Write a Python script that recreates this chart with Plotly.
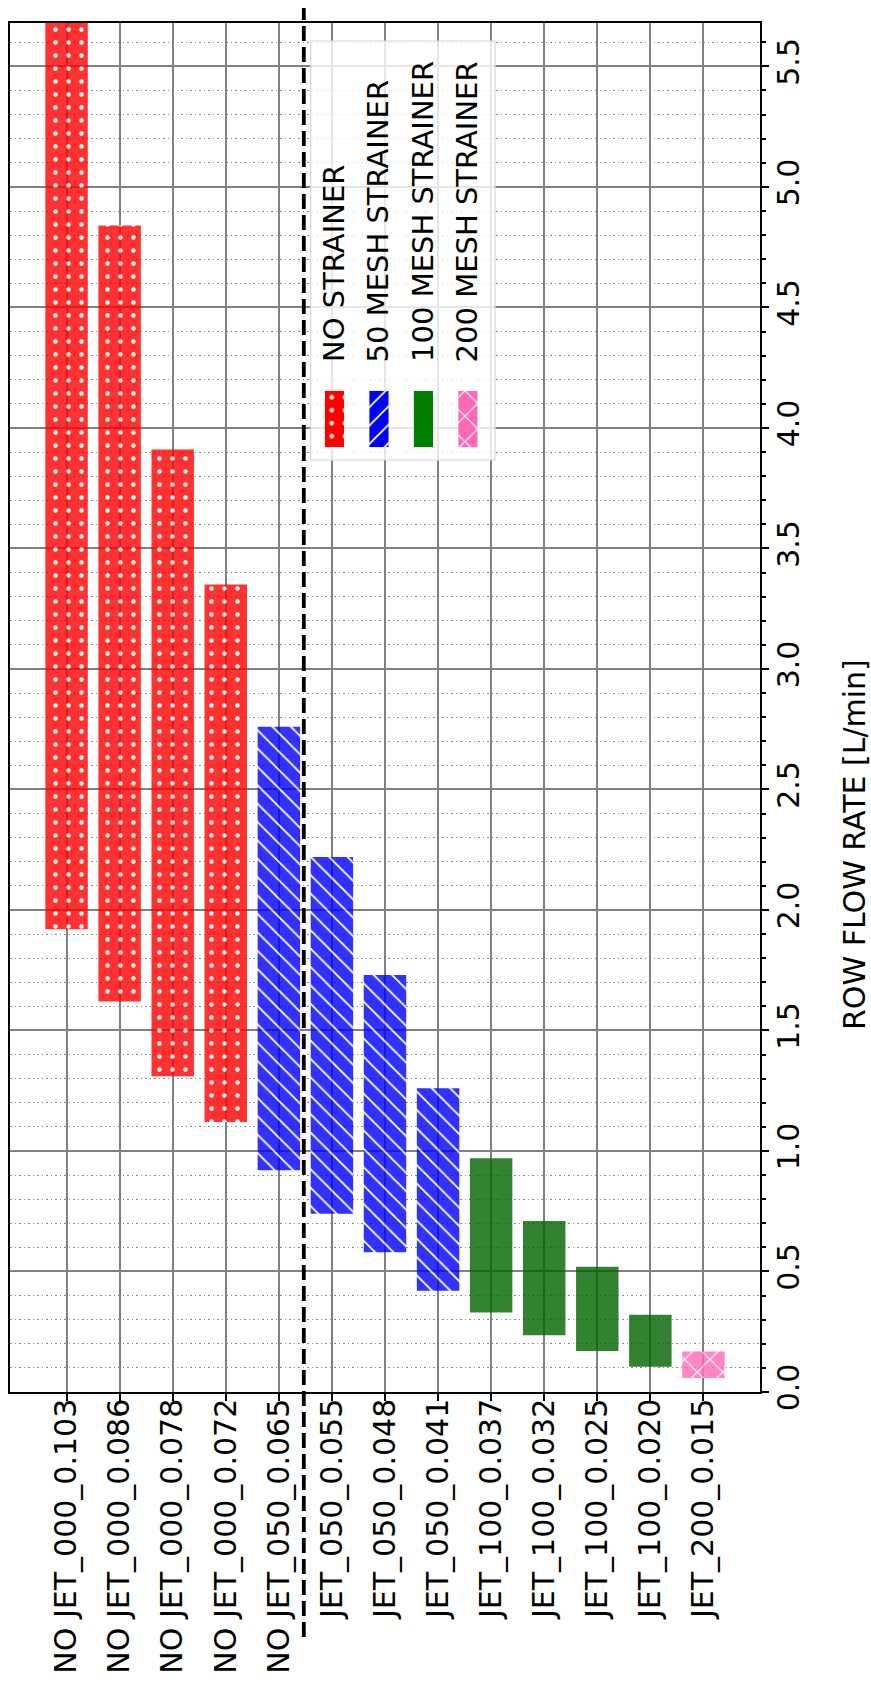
import plotly.graph_objects as go

categories = [
    "NO JET_000_0.103", "NO JET_000_0.086", "NO JET_000_0.078", "NO JET_000_0.072",
    "NO JET_050_0.065", "JET_050_0.055", "JET_050_0.048", "JET_050_0.041",
    "JET_100_0.037", "JET_100_0.032", "JET_100_0.025", "JET_100_0.020",
    "JET_200_0.015",
]
flow_min = [1.92, 1.62, 1.31, 1.12, 0.92, 0.74, 0.58, 0.42, 0.33, 0.235, 0.17, 0.105, 0.058]
flow_max = [5.80, 4.84, 3.91, 3.35, 2.76, 2.22, 1.73, 1.26, 0.97, 0.71, 0.52, 0.32, 0.168]
strainer = (["NO STRAINER"] * 4 + ["50 MESH STRAINER"] * 4
            + ["100 MESH STRAINER"] * 4 + ["200 MESH STRAINER"])
groups = ["NO STRAINER", "50 MESH STRAINER", "100 MESH STRAINER", "200 MESH STRAINER"]
y_ticks = [0.0, 0.5, 1.0, 1.5, 2.0, 2.5, 3.0, 3.5, 4.0, 4.5, 5.0, 5.5]

# styles
bar_colors = {"NO STRAINER": "#ff0000", "50 MESH STRAINER": "#0000ff",
              "100 MESH STRAINER": "#006400", "200 MESH STRAINER": "#ff69b4"}
leg_colors = {"NO STRAINER": "#ff0000", "50 MESH STRAINER": "#0000ff",
              "100 MESH STRAINER": "#008000", "200 MESH STRAINER": "#ff69b4"}
bar_pattern = {"NO STRAINER": ".", "50 MESH STRAINER": "\\",
               "100 MESH STRAINER": "", "200 MESH STRAINER": "x"}
leg_pattern = {"NO STRAINER": ".", "50 MESH STRAINER": "/",
               "100 MESH STRAINER": "", "200 MESH STRAINER": "x"}
pat_size = {".": 13, "\\": 13, "/": 13, "x": 18, "": 8}
pat_sol = {".": 0.09, "\\": 0.14, "/": 0.14, "x": 0.12, "": 0.3}

FONT = "DejaVu Sans"
W, H = 871, 1688
ML, MR, MT, MB = 10, 111, 23, 296
XR = [-1.066, len(categories) - 1 + 1.066]
YR = [0, 5.68]


def px_x(px):
    return (px - ML) / (W - ML - MR)


def px_y(py):
    return (H - MB - py) / (H - MT - MB)


def data_x(px):
    return XR[0] + px_x(px) * (XR[1] - XR[0])


def data_y(py):
    return YR[0] + px_y(py) * (YR[1] - YR[0])


fig = go.Figure()

for g in groups:
    idx = [i for i, s in enumerate(strainer) if s == g]
    fig.add_trace(
        go.Bar(
            x=[categories[i] for i in idx],
            y=[flow_max[i] - flow_min[i] for i in idx],
            base=[flow_min[i] for i in idx],
            width=0.8,
            opacity=0.8,
            marker=dict(
                color=bar_colors[g],
                line=dict(width=0),
                pattern=dict(shape=bar_pattern[g], fgcolor="white", fgopacity=1,
                             size=pat_size[bar_pattern[g]], solidity=pat_sol[bar_pattern[g]]),
            ),
            showlegend=False,
            hoverinfo="skip",
        )
    )

# legend swatches on a small hidden subplot
for k, g in enumerate(groups):
    fig.add_trace(
        go.Bar(
            x=[k], y=[1], base=[0], width=0.43,
            marker=dict(
                color=leg_colors[g],
                line=dict(width=0),
                pattern=dict(shape=leg_pattern[g], fgcolor="white", fgopacity=1,
                             size=pat_size[leg_pattern[g]], solidity=pat_sol[leg_pattern[g]]),
            ),
            xaxis="x2", yaxis="y2",
            showlegend=False, hoverinfo="skip",
        )
    )

slot = 44.47
leg_x0 = 334.5 - slot / 2

annotations = []
for k, g in enumerate(groups):
    annotations.append(dict(
        text=g, textangle=-90, showarrow=False,
        xref="paper", yref="paper",
        x=px_x(334.5 + k * slot), y=px_y(364),
        xanchor="center", yanchor="bottom",
        font=dict(family=FONT, size=29, color="black"),
    ))

annotations.append(dict(
    text="ROW FLOW RATE [L/min]", textangle=-90, showarrow=False,
    xref="paper", yref="paper", x=px_x(855), y=px_y(845),
    xanchor="center", yanchor="middle",
    font=dict(family=FONT, size=30, color="black"),
))

dash_x = (4.47 - XR[0]) / (XR[1] - XR[0])

shapes = [
    # legend frame
    dict(type="rect", xref="x", yref="y", layer="between",
         x0=data_x(310.7), x1=data_x(495), y0=data_y(460), y1=data_y(41),
         fillcolor="rgba(255,255,255,0.8)", line=dict(color="#d6d6d6", width=1.2)),
    # separator between NO JET and JET
    dict(type="line", xref="paper", yref="paper", layer="above",
         x0=dash_x, x1=dash_x, y0=px_y(1637), y1=px_y(8),
         line=dict(color="black", width=3.8, dash="15px,6px")),
]

fig.update_layout(
    width=W, height=H,
    margin=dict(l=ML, r=MR, t=MT, b=MB),
    barmode="overlay",
    plot_bgcolor="rgba(0,0,0,0)",
    paper_bgcolor="white",
    font=dict(family=FONT, size=30, color="black"),
    showlegend=False,
    annotations=annotations,
    shapes=shapes,
    xaxis=dict(
        type="category", categoryorder="array", categoryarray=categories,
        range=XR, tickangle=-90, automargin=False, ticklabelstandoff=-14,
        ticks="outside", ticklen=7, tickwidth=1.5, tickcolor="black",
        showgrid=True, gridcolor="#808080", gridwidth=1.5,
        showline=True, linecolor="black", linewidth=1.5, mirror=True,
        tickfont=dict(family=FONT, size=30, color="black"),
        zeroline=False,
    ),
    yaxis=dict(
        side="right", range=YR, automargin=False, ticklabelstandoff=-6,
        tickvals=y_ticks, tickformat=".1f", tickangle=-90,
        ticks="outside", ticklen=7, tickwidth=1.5, tickcolor="black",
        showgrid=True, gridcolor="#808080", gridwidth=1.5,
        minor=dict(dtick=0.1, ticks="outside", ticklen=4, tickcolor="black",
                   showgrid=True, gridcolor="#8c8c8c", gridwidth=1.3,
                   griddash="1.5px,3px"),
        showline=True, linecolor="black", linewidth=1.5, mirror=True,
        tickfont=dict(family=FONT, size=30, color="black"),
        zeroline=False,
    ),
    xaxis2=dict(domain=[px_x(leg_x0), px_x(leg_x0 + 4 * slot)], range=[-0.5, 3.5],
                anchor="y2", visible=False, fixedrange=True),
    yaxis2=dict(domain=[px_y(447.3), px_y(390.7)], range=[0, 1],
                anchor="x2", visible=False, fixedrange=True),
)

# the page's default body margin would shift the whole figure by 8px
fig.write_html("out.html", config={"displayModeBar": False},
               post_script="document.body.style.margin='0';")
